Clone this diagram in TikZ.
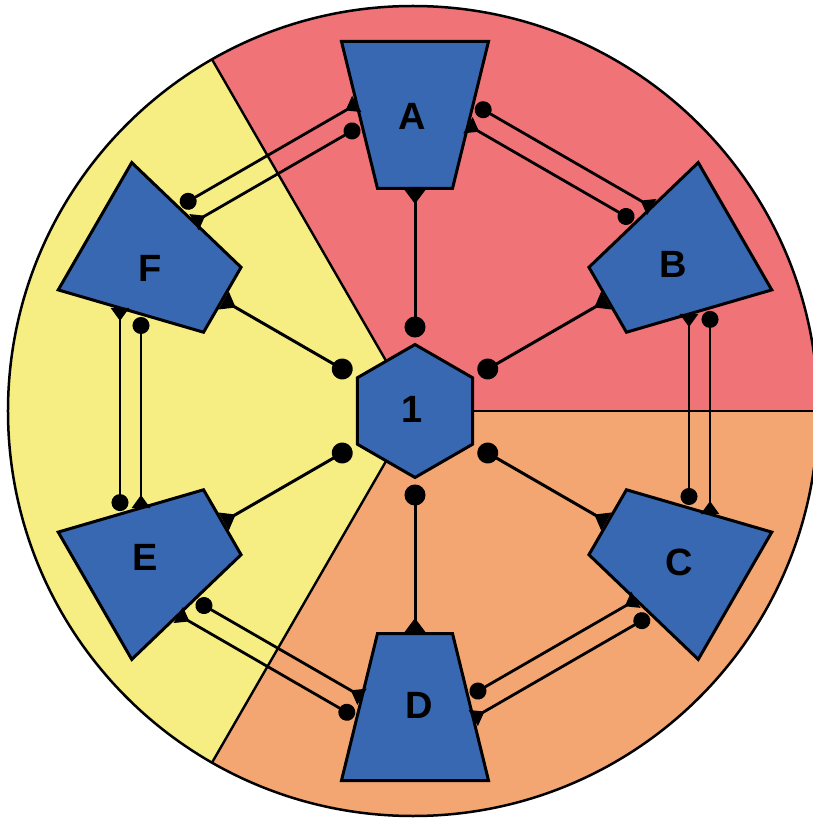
\documentclass[tikz,border=0pt]{standalone}
\usepackage{fontspec}
\setmainfont{Liberation Sans}
\usetikzlibrary{arrows.meta,calc}
\definecolor{secred}{RGB}{240,115,120}
\definecolor{secyellow}{RGB}{246,238,130}
\definecolor{secorange}{RGB}{243,166,114}
\definecolor{cellblue}{RGB}{56,104,178}
\tikzset{
  x=1pt, y=1pt,
  cell/.style={fill=cellblue, draw=black, line width=3pt, line join=miter},
  lbl/.style={font=\fontsize{38}{38}\selectfont\bfseries, inner sep=0pt},
  radial/.style={line width=3pt,
    {Circle[length=21pt,width=21pt]}-{Triangle[reversed,length=14pt,width=20pt]},
    shorten <=7pt},
  pairline/.style={line width=2.8pt,
    {Circle[length=17pt,width=17pt]}-{Triangle[reversed,length=13pt,width=18pt]},
    shorten <=3pt},
  border/.style={line width=2.4pt},
}
\begin{document}
\begin{tikzpicture}
\useasboundingbox (-415,-408) rectangle (398,411);

% coloured sectors inside the disc
\begin{scope}
  \clip (-2,0) circle (405);
  \fill[secred]    (0,0) -- (0:900)   -- (60:900)  -- (120:900) -- cycle;
  \fill[secyellow] (0,0) -- (120:900) -- (180:900) -- (240:900) -- cycle;
  \fill[secorange] (0,0) -- (240:900) -- (300:900) -- (360:900) -- cycle;
  \draw[border] (0,0) -- (0:900);
  \draw[border] (0,0) -- (120:900);
  \draw[border] (0,0) -- (240:900);
\end{scope}
\draw[line width=2.5pt] (-2,0) circle (405);

% central hexagon
\draw[cell] (90:66.5) -- (150:66.5) -- (210:66.5) -- (270:66.5) -- (330:66.5) -- (30:66.5) -- cycle;
\node[lbl] (hub) at (-3,2) {1};

% outer cells (trapezoids, wide side outward)
\foreach \ang/\n in {90/A,30/B,-30/C,-90/D,-150/E,150/F}{
  \begin{scope}[rotate=\ang-90, shift={(0,296)}]
    \draw[cell] (-37.5,-73.5) -- (37.5,-73.5) -- (73.5,73.5) -- (-73.5,73.5) -- cycle;
    \coordinate (\n-in) at (0,-75);
  \end{scope}
  \coordinate (h\n) at (\ang:66.5);
  \draw[radial] (h\n) -- (\n-in);
}

% labels of the outer cells
\node[lbl] (lA) at (-3,295)   {A};
\node[lbl] (lB) at (258,147)  {B};
\node[lbl] (lC) at (264,-151) {C};
\node[lbl] (lD) at (4,-294)   {D};
\node[lbl] (lE) at (-270,-146) {E};
\node[lbl] (lF) at (-265,143) {F};

% paired links between neighbouring cells
\foreach \ang/\a/\b in {120/F/A, 60/A/B, 0/B/C, -60/C/D, -120/D/E, 180/E/F}{
  \begin{scope}[rotate=\ang]
    \coordinate (\a\b-o1) at (295,103.1);
    \coordinate (\a\b-o2) at (295,-103.1);
    \coordinate (\a\b-i1) at (274,-97);
    \coordinate (\a\b-i2) at (274,97);
  \end{scope}
  \draw[pairline] (\a\b-o1) -- (\a\b-o2);
  \draw[pairline] (\a\b-i1) -- (\a\b-i2);
}
\end{tikzpicture}
\end{document}
